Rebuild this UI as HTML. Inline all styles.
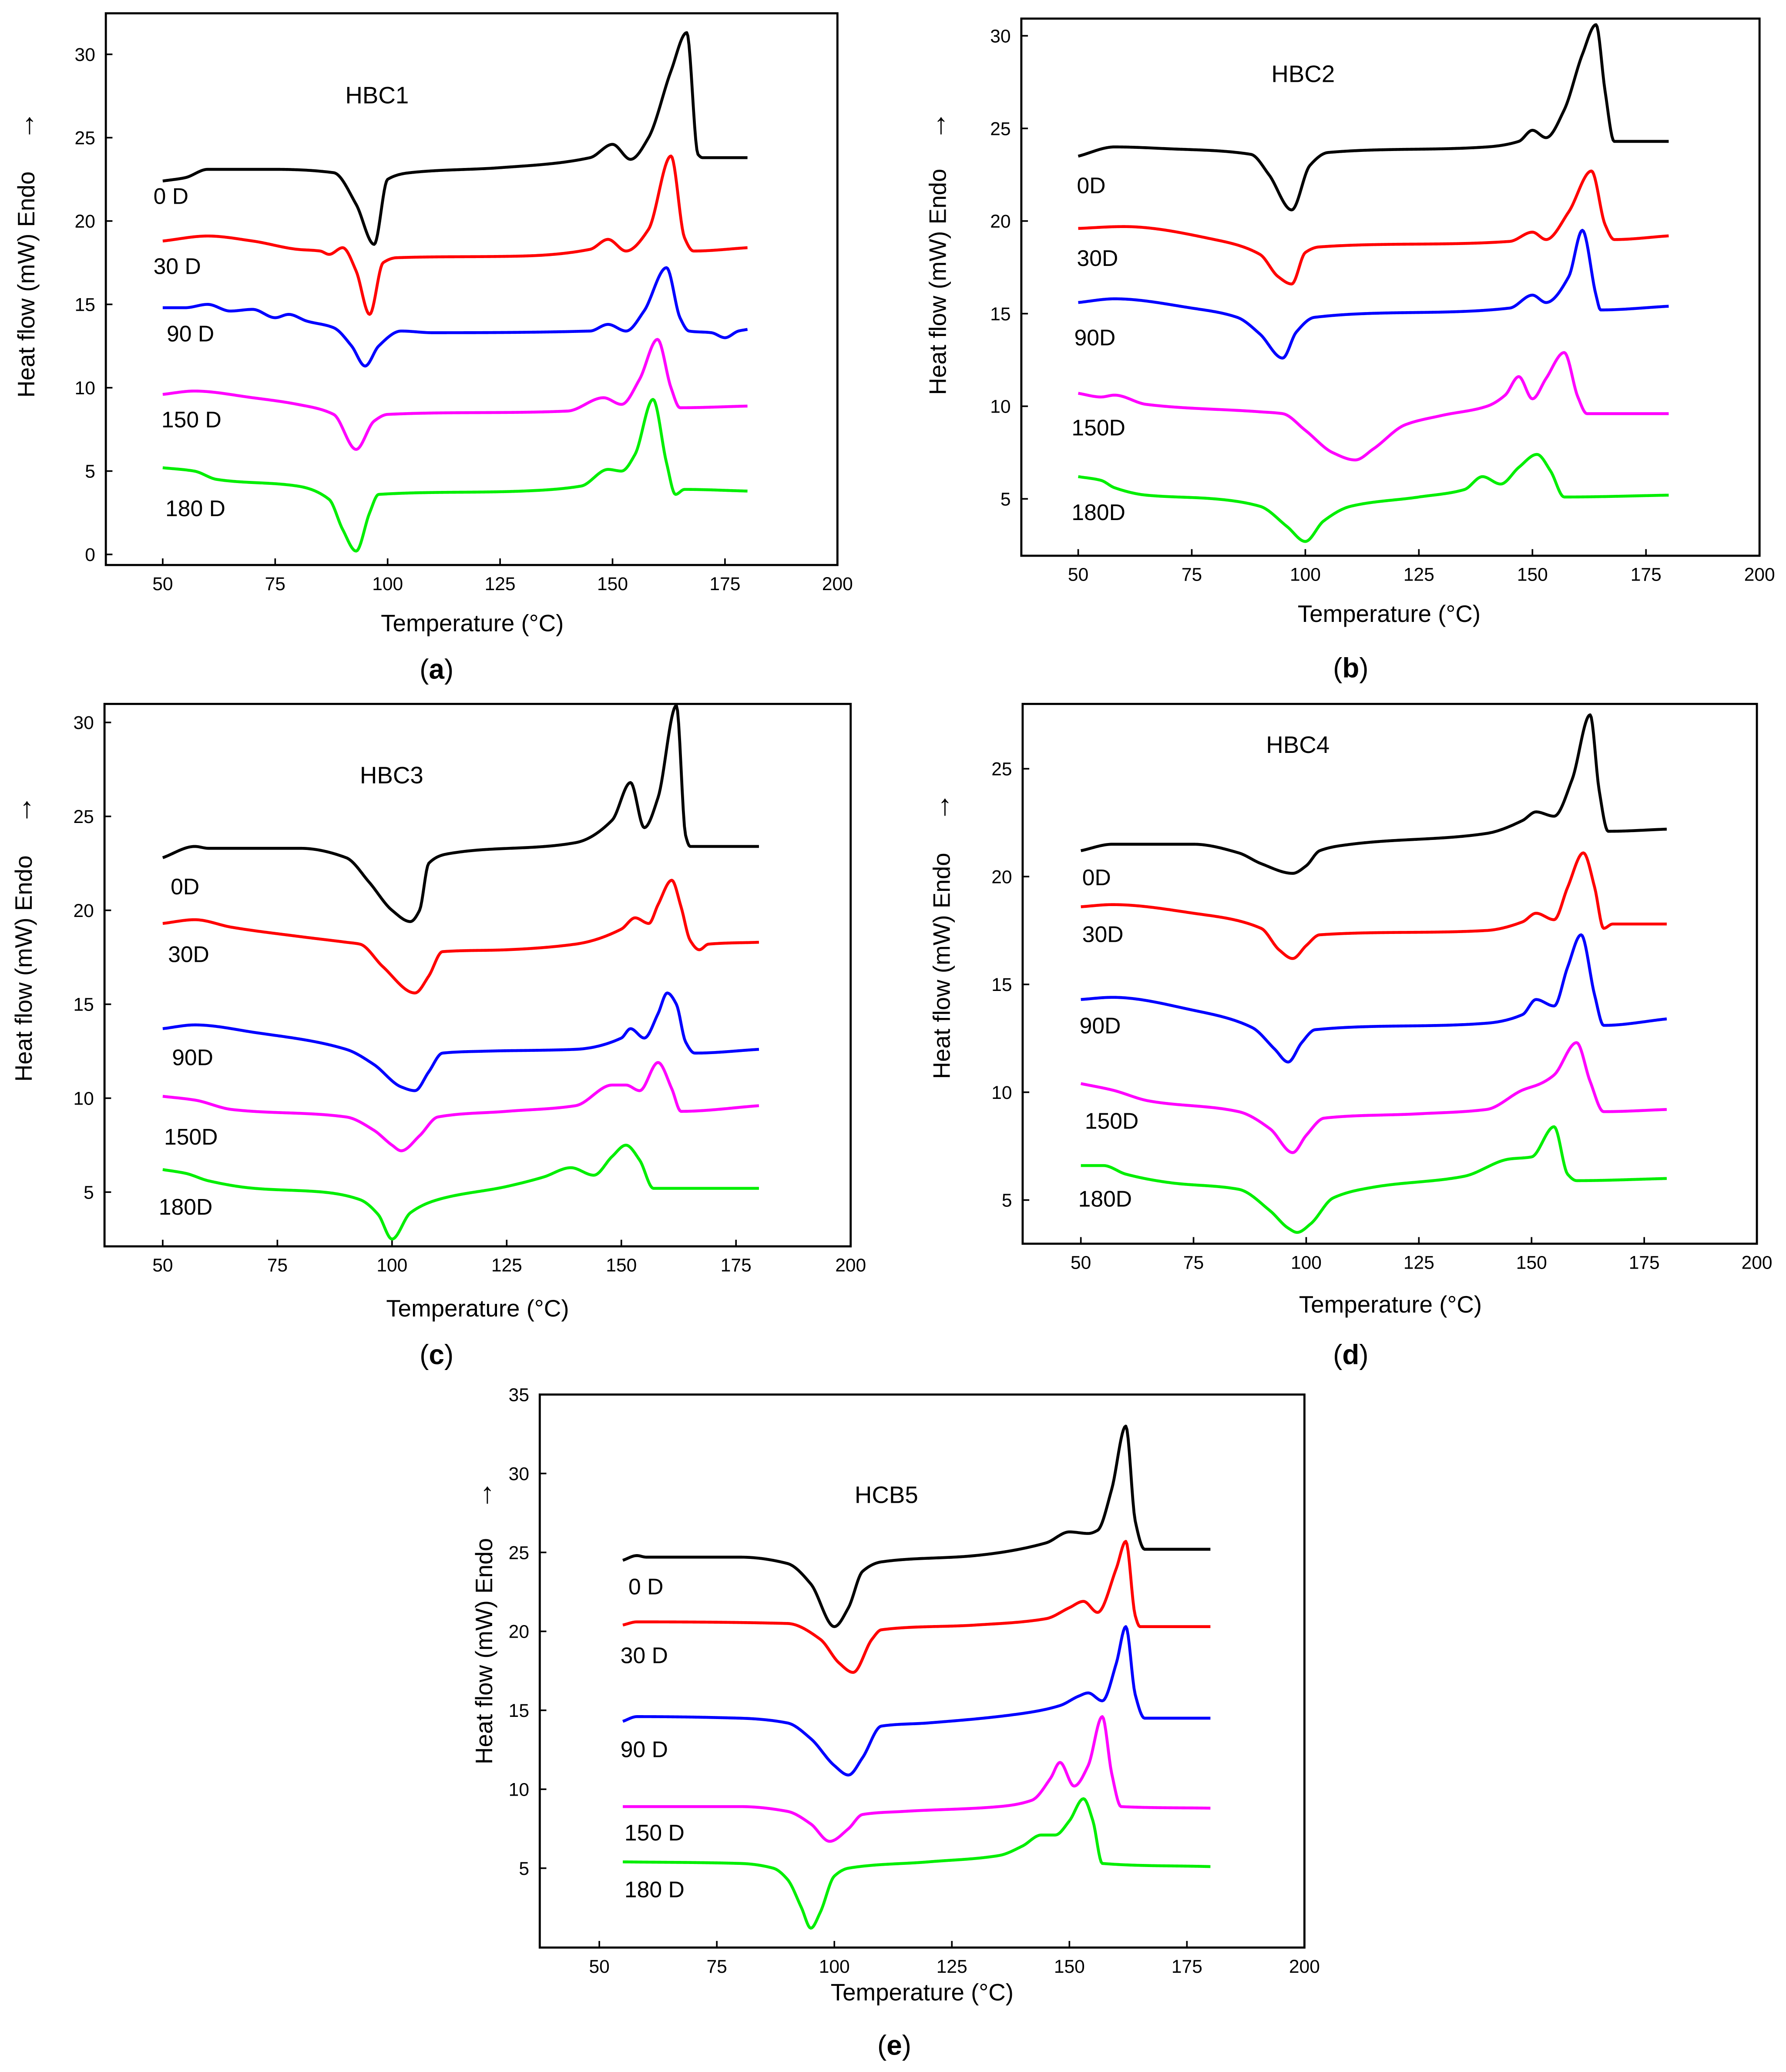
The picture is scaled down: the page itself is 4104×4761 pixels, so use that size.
<!DOCTYPE html>
<html><head><meta charset="utf-8"><style>
html,body{margin:0;padding:0;background:#fff;}
svg{display:block;}
text{font-family:"Liberation Sans",sans-serif;fill:#000;}
</style></head><body>
<svg id="fig" xmlns="http://www.w3.org/2000/svg" width="4104" height="4761" viewBox="0 0 1350 1566"></svg>
<script>
// ---- data: [temperature °C, heat flow mW] ----
const hbc1_0D=[[50,22.4],[55,22.6],[60,23.1],[75,23.1],[88,22.9],[93,21],[97,18.6],[100,22.5],[105,22.9],[125,23.2],[145,23.8],[150,24.6],[154,23.7],[158,25],[163,29],[166.5,31.3],[169,24],[170,23.8],[180,23.8]];
const hbc1_30D=[[50,18.8],[60,19.1],[70,18.8],[80,18.3],[85,18.2],[87,18],[90,18.4],[93,17],[96,14.4],[99,17.5],[102,17.8],[130,17.9],[145,18.3],[149,18.9],[153,18.2],[158,19.5],[163,23.9],[166,19],[168,18.2],[180,18.4]];
const hbc1_90D=[[50,14.8],[55,14.8],[60,15],[65,14.6],[70,14.7],[75,14.2],[78,14.4],[82,14],[88,13.6],[92,12.5],[95,11.3],[98,12.5],[103,13.4],[110,13.3],[145,13.4],[149,13.8],[153,13.4],[157,14.6],[162,17.2],[165,14.2],[167,13.4],[172,13.3],[175,13.0],[178,13.4],[180,13.5]];
const hbc1_150D=[[50,9.6],[57,9.8],[70,9.4],[80,9.0],[88,8.4],[93,6.3],[97,8.0],[100,8.4],[140,8.6],[148,9.4],[152,9.0],[156,10.5],[160,12.9],[163,10],[165,8.8],[180,8.9]];
const hbc1_180D=[[50,5.2],[57,5.0],[62,4.5],[80,4.1],[87,3.3],[90,1.5],[93,0.2],[96,2.5],[98,3.6],[130,3.8],[143,4.1],[149,5.1],[152,5.0],[155,6],[159,9.3],[162,5.5],[164,3.6],[166,3.9],[180,3.8]];

const hbc2_0D=[[50,23.5],[58,24.0],[70,23.9],[88,23.6],[92,22.5],[97,20.6],[101,23.0],[105,23.7],[140,24.0],[147,24.3],[150,24.9],[153,24.5],[157,26],[161,29],[164,30.6],[166,27],[168,24.3],[180,24.3]];
const hbc2_30D=[[50,19.6],[60,19.7],[80,19.0],[90,18.2],[94,17.0],[97,16.6],[100,18.3],[103,18.6],[145,18.9],[150,19.4],[153,19.0],[158,20.5],[163,22.7],[166,19.8],[168,19.0],[180,19.2]];
const hbc2_90D=[[50,15.6],[58,15.8],[75,15.3],[85,14.8],[90,13.9],[95,12.6],[98,14.0],[102,14.8],[145,15.3],[150,16.0],[153,15.6],[158,17],[161,19.5],[164,16],[165,15.2],[180,15.4]];
const hbc2_150D=[[50,10.7],[55,10.5],[58,10.6],[65,10.1],[90,9.7],[95,9.6],[100,8.7],[106,7.5],[111,7.1],[115,7.7],[122,9.0],[130,9.5],[140,10.0],[144,10.6],[147,11.6],[150,10.4],[153,11.5],[157,12.9],[160,10.5],[162,9.6],[180,9.6]];
const hbc2_180D=[[50,6.2],[55,6.0],[58,5.6],[65,5.2],[80,5.0],[90,4.6],[96,3.5],[100,2.7],[104,3.8],[110,4.6],[125,5.1],[135,5.5],[139,6.2],[143,5.8],[147,6.7],[151,7.4],[154,6.5],[157,5.1],[180,5.2]];

const hbc3_0D=[[50,22.8],[57,23.4],[60,23.3],[80,23.3],[90,22.8],[95,21.5],[100,20.0],[104,19.4],[106,20],[108,22.5],[112,23.0],[140,23.6],[148,24.8],[152,26.8],[155,24.4],[158,26.0],[162,30.9],[164,24],[165,23.4],[180,23.4]];
const hbc3_30D=[[50,19.3],[57,19.5],[65,19.1],[80,18.6],[90,18.3],[93,18.2],[98,17.0],[105,15.6],[108,16.5],[111,17.8],[125,17.9],[140,18.2],[150,19.0],[153,19.6],[156,19.3],[158,20.3],[161,21.6],[163,20.2],[165,18.4],[167,17.9],[169,18.2],[180,18.3]];
const hbc3_90D=[[50,13.7],[57,13.9],[70,13.5],[90,12.6],[96,11.8],[102,10.6],[105,10.4],[108,11.4],[111,12.4],[120,12.5],[140,12.6],[150,13.2],[152,13.7],[155,13.2],[158,14.5],[160,15.6],[162,15],[164,13],[166,12.4],[180,12.6]];
const hbc3_150D=[[50,10.1],[57,9.9],[65,9.4],[90,9.0],[96,8.3],[100,7.5],[102,7.2],[106,8.0],[110,9.0],[125,9.3],[140,9.6],[148,10.7],[151,10.7],[154,10.4],[158,11.9],[161,10.5],[163,9.3],[180,9.6]];
const hbc3_180D=[[50,6.2],[55,6.0],[60,5.6],[70,5.2],[85,5.0],[93,4.6],[97,3.8],[100,2.5],[104,3.9],[110,4.6],[125,5.3],[133,5.8],[139,6.3],[144,5.9],[148,6.9],[151,7.5],[154,6.7],[157,5.2],[180,5.2]];

const hbc4_0D=[[50,21.2],[57,21.5],[75,21.5],[85,21.1],[90,20.6],[97,20.15],[100,20.5],[103,21.2],[110,21.5],[140,22.0],[148,22.6],[151,23.0],[155,22.8],[159,24.5],[163,27.5],[165,24],[167,22.1],[180,22.2]];
const hbc4_30D=[[50,18.6],[57,18.7],[75,18.3],[90,17.6],[94,16.6],[97,16.2],[100,16.8],[103,17.3],[140,17.5],[148,17.9],[151,18.3],[155,18.0],[158,19.5],[161.5,21.1],[164,19.5],[166,17.6],[168,17.8],[180,17.8]];
const hbc4_90D=[[50,14.3],[57,14.4],[75,13.8],[88,13.0],[93,12.0],[96,11.4],[99,12.3],[102,12.9],[140,13.2],[148,13.6],[151,14.3],[155,14.0],[158,15.8],[161,17.3],[164,14.5],[166,13.1],[180,13.4]];
const hbc4_150D=[[50,10.4],[57,10.1],[65,9.6],[85,9.1],[92,8.3],[97,7.2],[100,8.0],[104,8.8],[125,9.0],[140,9.2],[148,10.1],[152,10.4],[155,10.8],[160,12.3],[163,10.5],[166,9.1],[180,9.2]];
const hbc4_180D=[[50,6.6],[55,6.6],[60,6.2],[70,5.8],[85,5.5],[92,4.5],[96,3.7],[98,3.5],[101,3.9],[106,5.1],[115,5.6],[135,6.1],[145,6.9],[150,7.0],[155,8.4],[158,6.2],[160,5.9],[180,6.0]];

const hcb5_0D=[[55,24.5],[58,24.8],[60,24.7],[80,24.7],[90,24.3],[95,23.0],[100,20.3],[103,21.5],[106,23.8],[110,24.4],[130,24.8],[145,25.6],[150,26.3],[154,26.2],[156,26.4],[159,29],[162,33.0],[164,27],[166,25.2],[180,25.2]];
const hcb5_30D=[[55,20.4],[58,20.6],[90,20.5],[97,19.5],[101,18.0],[104,17.4],[108,19.5],[110,20.1],[130,20.4],[145,20.8],[150,21.5],[153,21.9],[156,21.2],[160,24],[162,25.7],[164,21],[165,20.3],[180,20.3]];
const hcb5_90D=[[55,14.3],[58,14.6],[80,14.5],[90,14.2],[95,13.2],[100,11.5],[103,10.9],[106,12.0],[110,14.0],[120,14.2],[140,14.8],[148,15.3],[152,15.9],[154,16.1],[157,15.6],[160,18],[162,20.3],[164,16],[166,14.5],[180,14.5]];
const hcb5_150D=[[55,8.9],[80,8.9],[90,8.6],[95,7.8],[99,6.7],[103,7.5],[106,8.4],[115,8.6],[135,8.9],[142,9.3],[146,10.7],[148,11.7],[151,10.2],[154,11.5],[157,14.6],[159,11],[161,8.9],[180,8.8]];
const hcb5_180D=[[55,5.4],[80,5.3],[87,5.0],[90,4.3],[93,2.5],[95,1.2],[97,2.2],[100,4.5],[103,5.0],[120,5.4],[135,5.8],[140,6.4],[144,7.1],[147,7.1],[150,8.0],[153,9.4],[155,8],[157,5.3],[180,5.1]];

const xTicks=[50,75,100,125,150,175,200];
const colors=['#000000','#ff0000','#0000ff','#ff00ff','#00ee00'];

const panels=[
 {id:'a',title:'HBC1',fx0:80,fx1:633,fy0:10,fy1:427,x0px:123,x1px:633,yA:0,yApx:419,yB:30,yBpx:41,yTicks:[0,5,10,15,20,25,30],
  series:[hbc1_0D,hbc1_30D,hbc1_90D,hbc1_150D,hbc1_180D],labels:['0 D','30 D','90 D','150 D','180 D'],lpos:[[116,148],[116,201],[126,252],[122,317],[125,384]],
  tpos:[285,72],xl:[357,471],pl:[330,506],yl:[20,215],arr:95},
 {id:'b',title:'HBC2',fx0:772,fx1:1330,fy0:14,fy1:420,x0px:815,x1px:1330,yA:5,yApx:377,yB:30,yBpx:27,yTicks:[5,10,15,20,25,30],
  series:[hbc2_0D,hbc2_30D,hbc2_90D,hbc2_150D,hbc2_180D],labels:['0D','30D','90D','150D','180D'],lpos:[[814,140],[814,195],[812,255],[810,323],[810,387]],
  tpos:[985,56],xl:[1050,464],pl:[1021,505],yl:[709,213],arr:95},
 {id:'c',title:'HBC3',fx0:79,fx1:643,fy0:532,fy1:942,x0px:123,x1px:643,yA:5,yApx:901,yB:30,yBpx:546,yTicks:[5,10,15,20,25,30],
  series:[hbc3_0D,hbc3_30D,hbc3_90D,hbc3_150D,hbc3_180D],labels:['0D','30D','90D','150D','180D'],lpos:[[129,670],[127,721],[130,799],[124,859],[120,912]],
  tpos:[296,586],xl:[361,989],pl:[330,1024],yl:[18,732],arr:612},
 {id:'d',title:'HBC4',fx0:773,fx1:1328,fy0:532,fy1:940,x0px:817,x1px:1328,yA:5,yApx:907,yB:25,yBpx:581,yTicks:[5,10,15,20,25],
  series:[hbc4_0D,hbc4_30D,hbc4_90D,hbc4_150D,hbc4_180D],labels:['0D','30D','90D','150D','180D'],lpos:[[818,663],[818,706],[816,775],[820,847],[815,906]],
  tpos:[981,563],xl:[1051,986],pl:[1021,1024],yl:[712,730],arr:610},
 {id:'e',title:'HCB5',fx0:408,fx1:986,fy0:1054,fy1:1472,x0px:453,x1px:986,yA:5,yApx:1412,yB:35,yBpx:1054,yTicks:[5,10,15,20,25,30,35],
  series:[hcb5_0D,hcb5_30D,hcb5_90D,hcb5_150D,hcb5_180D],labels:['0 D','30 D','90 D','150 D','180 D'],lpos:[[475,1199],[469,1251],[469,1322],[472,1385],[472,1428]],
  tpos:[670,1130],xl:[697,1506],pl:[676,1546],yl:[366,1248],arr:1130}
];

const NS='http://www.w3.org/2000/svg';
const svg=document.getElementById('fig');
function mk(tag,attrs,parent,txt){const e=document.createElementNS(NS,tag);for(const k in attrs)e.setAttribute(k,attrs[k]);if(txt!==undefined)e.textContent=txt;(parent||svg).appendChild(e);return e;}
// monotone cubic (Fritsch-Carlson) sampling in data space
function monoSample(pts){
 const n=pts.length,xs=pts.map(p=>p[0]),ys=pts.map(p=>p[1]);
 const d=[],m=new Array(n);
 for(let i=0;i<n-1;i++)d.push((ys[i+1]-ys[i])/(xs[i+1]-xs[i]));
 m[0]=d[0];m[n-1]=d[n-2];
 for(let i=1;i<n-1;i++){ if(d[i-1]*d[i]<=0)m[i]=0; else {const w1=2*(xs[i+1]-xs[i])+(xs[i]-xs[i-1]),w2=(xs[i+1]-xs[i])+2*(xs[i]-xs[i-1]);m[i]=(w1+w2)/(w1/d[i-1]+w2/d[i]);} }
 const out=[];
 for(let i=0;i<n-1;i++){const h=xs[i+1]-xs[i];const steps=Math.max(4,Math.ceil(h*4));
  for(let s=0;s<steps;s++){const t=s/steps,t2=t*t,t3=t2*t;
   const y=(2*t3-3*t2+1)*ys[i]+(t3-2*t2+t)*h*m[i]+(-2*t3+3*t2)*ys[i+1]+(t3-t2)*h*m[i+1];
   out.push([xs[i]+t*h,y]);}}
 out.push([xs[n-1],ys[n-1]]);
 return out;}

panels.forEach(p=>{
 const g=mk('g',{});
 
 
 const X=t=>p.x0px+(t-50)*(p.x1px-p.x0px)/150;
 const Y=v=>p.yApx+(v-p.yA)*(p.yBpx-p.yApx)/(p.yB-p.yA);
 const fr=mk('rect',{x:p.fx0,y:p.fy0,width:p.fx1-p.fx0,height:p.fy1-p.fy0,fill:'none',stroke:'#000','stroke-width':1.6},g);
 
 
 xTicks.forEach(t=>{const x=X(t);
  mk('line',{x1:x,x2:x,y1:p.fy1,y2:p.fy1-5,stroke:'#000','stroke-width':1.2},g);
  const tl=mk('text',{x:x,y:p.fy1+19,'font-size':14,'text-anchor':'middle'},g,String(t));
  
  });
 p.yTicks.forEach(v=>{const y=Y(v);
  mk('line',{x1:p.fx0,x2:p.fx0+5,y1:y,y2:y,stroke:'#000','stroke-width':1.2},g);
  const tl=mk('text',{x:p.fx0-8,y:y+5,'font-size':14,'text-anchor':'end'},g,String(v));
  
  });
 p.series.forEach((s,i)=>{
  const pts=monoSample(s).map(q=>X(q[0]).toFixed(2)+','+Y(q[1]).toFixed(2)).join(' ');
  const path=mk('polyline',{points:pts,fill:'none',stroke:colors[i],'stroke-width':2.2,'stroke-linejoin':'round'},g);
  
  
  const lb=mk('text',{x:p.lpos[i][0],y:p.lpos[i][1]+6,'font-size':17},g,p.labels[i]);
  
  });
 const ti=mk('text',{x:p.tpos[0],y:p.tpos[1]+6,'font-size':18,'text-anchor':'middle'},g,p.title);
 
 
 const xl=mk('text',{x:p.xl[0],y:p.xl[1]+6,'font-size':18,'text-anchor':'middle'},g,'Temperature (°C)');
 
 
 const yl=mk('text',{x:0,y:0,'font-size':18,'text-anchor':'middle',transform:'translate('+(p.yl[0]+6)+','+p.yl[1]+') rotate(-90)'},g,'Heat flow (mW) Endo');
 
 
 const ar=mk('text',{x:0,y:0,'font-size':22,'text-anchor':'middle',transform:'translate('+(p.yl[0]+6)+','+p.arr+') rotate(-90)'},g,'→');
 
 
 const pl=mk('text',{x:p.pl[0],y:p.pl[1]+7,'font-size':21,'text-anchor':'middle','font-family':'Liberation Serif, serif'},g);
 
 
 mk('tspan',{},pl,'(');mk('tspan',{'font-weight':'bold'},pl,p.id);mk('tspan',{},pl,')');
});
</script>
</body></html>
